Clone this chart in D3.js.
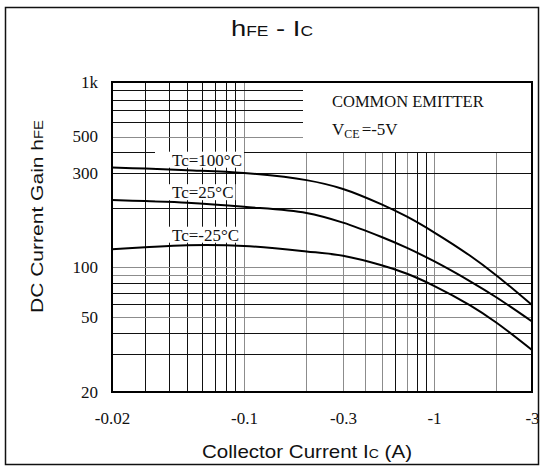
<!DOCTYPE html>
<html lang="en">
	<head>
		<meta charset="utf-8">
		<title>hFE - Ic</title>
		<script type="text/javascript" src="https://d3js.org/d3.v7.min.js"></script>
		<style type="text/css">
            body{margin:0;background:#fff;}
            svg{display:block;}
		</style>
	</head>
	<body>
    <div id="chart1"></div>
		<script type="text/javascript">
            //collector current (A, shown negative on the axis) and gain for each case temperature
            var currents = [0.02, 0.03, 0.05, 0.1, 0.2, 0.3, 0.5, 0.7, 1, 1.5, 2, 3]
            var gain100 = [324, 319, 312, 300, 276, 249, 208, 180, 150, 114, 89.6, 59]
            var gain25 = [219, 216, 212, 202, 188, 168, 142, 125, 107, 82, 66, 47]
            var gainMinus25 = [123, 126, 129, 128, 120, 114, 102, 91, 77, 58.7, 46.5, 31.7]
            var curveLabels = ["Tc=100°C", "Tc=25°C", "Tc=-25°C"]

            var xTickValues = [0.02, 0.1, 0.3, 1, 3]
            var xTickLabels = ["-0.02", "-0.1", "-0.3", "-1", "-3"]
            var yTickValues = [20, 50, 100, 300, 500, 1000]
            var yTickLabels = ["20", "50", "100", "300", "500", "1k"]

            //gray grid lines, the rest are black
            var xGray = [0.1, 0.2, 0.3, 0.4, 0.5, 0.7, 1, 2]
            var yGray = [50, 90, 100, 500]

            var w = 541
            var h = 467
            //note: "top" is taken by window.top, so use other names
            var plotL = 112, plotR = 532, plotT = 82, plotB = 392

            //the printed grid is not a perfect log grid, so the scales are piecewise log
            var xScale = d3.scaleLog()
                .domain([0.02, 0.1, 0.3, 1, 3])
                .range([plotL, 244, 343, 434, plotR])
            var yScale = d3.scaleLog()
                .domain([20, 30, 50, 100, 300, 500, 1000])
                .range([plotB, 354, 317, 267, 173, 136.5, plotT])

            var svg = d3.select("#chart1")
                        .append("svg")
                        .attr("width", w)
                        .attr("height", h)

            //outer frame
            svg.append("rect")
                .attr("x", 5.5).attr("y", 7.5)
                .attr("width", 533).attr("height", 457)
                .attr("fill", "#fff")
                .attr("stroke", "#111")
                .attr("stroke-width", 1.5)

            //title  hFE - IC
            var title = svg.append("text")
                .attr("x", 231).attr("y", 36)
                .attr("font-family", "Liberation Sans, Arial, sans-serif")
                .attr("font-size", 22)
                .attr("textLength", 82)
                .attr("lengthAdjust", "spacingAndGlyphs")
                .attr("fill", "#111")
            title.append("tspan").text("h")
            title.append("tspan").attr("font-size", 14).text("FE")
            title.append("tspan").text(" - I")
            title.append("tspan").attr("font-size", 14).text("C")

            //grid
            var grid = svg.append("g")
            grid.selectAll(".vline")
                .data(xScale.ticks())
                .enter()
                .append("line")
                .attr("class", "vline")
                .attr("x1", function(d){ return Math.round(xScale(d)) + 0.5 })
                .attr("x2", function(d){ return Math.round(xScale(d)) + 0.5 })
                .attr("y1", plotT)
                .attr("y2", plotB)
                .attr("stroke", function(d){
                    return xGray.some(function(g){ return Math.abs(g - d) < 1e-9 }) ? "#8c8c8c" : "#111"
                })
                .attr("stroke-width", 1)
            grid.selectAll(".hline")
                .data(yScale.ticks())
                .enter()
                .append("line")
                .attr("class", "hline")
                .attr("y1", function(d){ return Math.round(yScale(d)) + 0.5 })
                .attr("y2", function(d){ return Math.round(yScale(d)) + 0.5 })
                .attr("x1", plotL)
                .attr("x2", plotR)
                .attr("stroke", function(d){
                    return yGray.some(function(g){ return Math.abs(g - d) < 1e-9 }) ? "#8c8c8c" : "#111"
                })
                .attr("stroke-width", 1)

            //blank box for the test condition, grid stops at the 400 line
            var boxBottom = Math.round(yScale(400))
            svg.append("rect")
                .attr("x", 303).attr("y", plotT)
                .attr("width", plotR - 303).attr("height", boxBottom - plotT)
                .attr("fill", "#fff")
            svg.append("text")
                .attr("x", 332).attr("y", 107)
                .attr("font-family", "Liberation Serif, Times New Roman, serif")
                .attr("font-size", 16.5)
                .attr("fill", "#111")
                .text("COMMON EMITTER")
            var vce = svg.append("text")
                .attr("x", 332).attr("y", 135)
                .attr("font-family", "Liberation Serif, Times New Roman, serif")
                .attr("font-size", 17)
                .attr("fill", "#111")
            vce.append("tspan").text("V")
            vce.append("tspan").attr("font-size", 12).attr("dy", 3).text("CE")
            vce.append("tspan").attr("dy", -3).attr("dx", 2).text("=-5V")

            //the three gain curves
            var series = [gain100, gain25, gainMinus25]
            var line = d3.line()
                .x(function(d, i){ return xScale(currents[i]) })
                .y(function(d){ return yScale(d) })
                .curve(d3.curveCatmullRom.alpha(0.5))

            svg.selectAll(".curve")
                .data(series)
                .enter()
                .append("path")
                .attr("class", "curve")
                .attr("d", line)
                .attr("fill", "none")
                .attr("stroke", "#000")
                .attr("stroke-width", 2)

            //labels sit just above each curve with a white patch behind them
            series.forEach(function(s, k){
                var g = svg.append("g")
                var t = g.append("text")
                    .attr("x", 172)
                    .attr("y", yScale(s[2]) - 4.5)
                    .attr("font-family", "Liberation Serif, Times New Roman, serif")
                    .attr("font-size", 17)
                    .attr("fill", "#111")
                    .text(curveLabels[k])
                var b = t.node().getBBox()
                g.insert("rect", "text")
                    .attr("x", 155)
                    .attr("y", b.y + 1)
                    .attr("width", b.x + b.width + 2 - 155)
                    .attr("height", b.height - 3)
                    .attr("fill", "#fff")
            })

            //plot frame
            svg.append("rect")
                .attr("x", plotL).attr("y", plotT)
                .attr("width", plotR - plotL).attr("height", plotB - plotT)
                .attr("fill", "none")
                .attr("stroke", "#000")
                .attr("stroke-width", 2)

            //axes with just the tick labels
            var xAxis = d3.axisBottom(xScale)
                .tickValues(xTickValues)
                .tickFormat(function(d, i){ return xTickLabels[i] })
                .tickSize(0)
                .tickPadding(20)
            var yAxis = d3.axisLeft(yScale)
                .tickValues(yTickValues)
                .tickFormat(function(d, i){ return yTickLabels[i] })
                .tickSize(0)
                .tickPadding(14)

            svg.append("g")
                .attr("transform", "translate(0," + plotB + ")")
                .call(xAxis)
                .call(function(g){ g.select(".domain").remove() })
            svg.append("g")
                .attr("transform", "translate(" + plotL + ",0)")
                .call(yAxis)
                .call(function(g){ g.select(".domain").remove() })
            svg.selectAll(".tick text")
                .attr("font-family", "Liberation Serif, Times New Roman, serif")
                .attr("font-size", 17)
                .attr("fill", "#111")

            //axis titles
            var xTitle = svg.append("text")
                .attr("x", 202).attr("y", 458)
                .attr("font-family", "Liberation Sans, Arial, sans-serif")
                .attr("font-size", 19)
                .attr("textLength", 210)
                .attr("lengthAdjust", "spacingAndGlyphs")
                .attr("fill", "#111")
            xTitle.append("tspan").text("Collector Current I")
            xTitle.append("tspan").attr("font-size", 13).text("C")
            xTitle.append("tspan").text(" (A)")

            var yTitle = svg.append("text")
                .attr("transform", "rotate(-90)")
                .attr("x", -313).attr("y", 43)
                .attr("font-family", "Liberation Sans, Arial, sans-serif")
                .attr("font-size", 17)
                .attr("textLength", 193)
                .attr("lengthAdjust", "spacingAndGlyphs")
                .attr("fill", "#111")
            yTitle.append("tspan").text("DC Current Gain h")
            yTitle.append("tspan").attr("font-size", 12).text("FE")
        </script>
	</body>
</html>
